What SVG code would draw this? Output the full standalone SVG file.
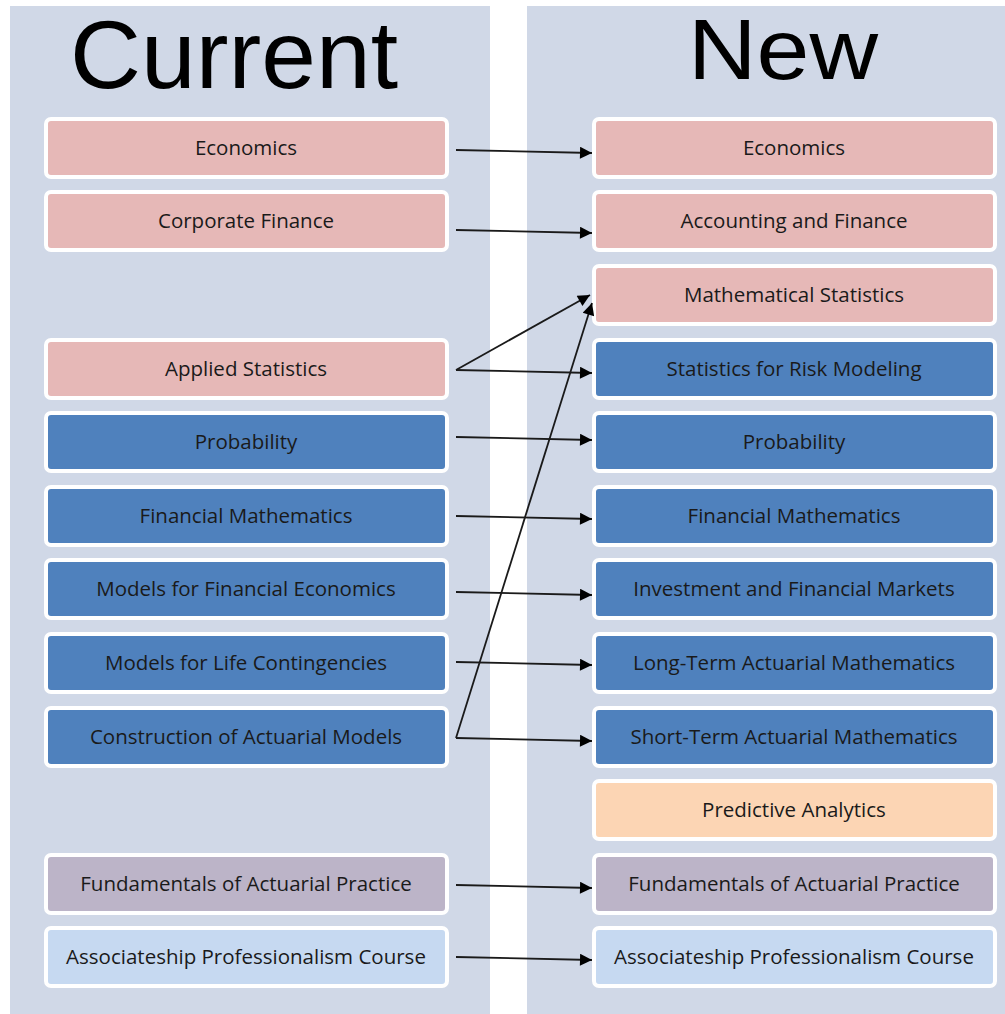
<svg xmlns="http://www.w3.org/2000/svg" width="1005" height="1014" viewBox="0 0 1005 1014">
<style>
.panel{fill:#D0D8E7}
.box{stroke:#FFFFFF;stroke-width:4}
.pink{fill:#E6B8B7}
.blue{fill:#4F81BD}
.peach{fill:#FCD5B4}
.purple{fill:#BCB4C8}
.lblue{fill:#C6D9F1}
.lbl{font-family:"Open Sans","Noto Sans",sans-serif;font-size:20.5px;fill:#1A1A1A;text-anchor:middle;dominant-baseline:central}
.title{font-family:"Liberation Sans","Open Sans",sans-serif;fill:#000000;text-anchor:middle}
.conn{stroke:#1A1A1A;stroke-width:1.8;fill:none;marker-end:url(#arr)}
</style>
<defs>
<marker id="arr" viewBox="0 0 10 10" refX="10" refY="5" markerWidth="15" markerHeight="12" markerUnits="userSpaceOnUse" orient="auto">
<path d="M0,0 L10,5 L0,10 Z" fill="#000000"/>
</marker>
</defs>
<rect fill="#FFFFFF" x="0" y="0" width="1005" height="1014"/>
<rect class="panel" x="10" y="6" width="480" height="1008"/>
<rect class="panel" x="527" y="6" width="478" height="1008"/>
<text class="title" x="234" y="88" font-size="96" textLength="328" lengthAdjust="spacingAndGlyphs">Current</text>
<text class="title" x="783" y="79" font-size="86" textLength="190" lengthAdjust="spacingAndGlyphs">New</text>

<g id="cur-economics"><rect class="box pink" x="46" y="119" width="401" height="58" rx="5"/><text class="lbl" x="246" y="147">Economics</text></g>
<g id="cur-corporate-finance"><rect class="box pink" x="46" y="192" width="401" height="58" rx="5"/><text class="lbl" x="246" y="220">Corporate Finance</text></g>
<g id="cur-applied-statistics"><rect class="box pink" x="46" y="340" width="401" height="58" rx="5"/><text class="lbl" x="246" y="368">Applied Statistics</text></g>
<g id="cur-probability"><rect class="box blue" x="46" y="413" width="401" height="58" rx="5"/><text class="lbl" x="246" y="441">Probability</text></g>
<g id="cur-financial-mathematics"><rect class="box blue" x="46" y="487" width="401" height="58" rx="5"/><text class="lbl" x="246" y="515">Financial Mathematics</text></g>
<g id="cur-models-fe"><rect class="box blue" x="46" y="560" width="401" height="58" rx="5"/><text class="lbl" x="246" y="588">Models for Financial Economics</text></g>
<g id="cur-models-lc"><rect class="box blue" x="46" y="634" width="401" height="58" rx="5"/><text class="lbl" x="246" y="662">Models for Life Contingencies</text></g>
<g id="cur-construction"><rect class="box blue" x="46" y="708" width="401" height="58" rx="5"/><text class="lbl" x="246" y="736">Construction of Actuarial Models</text></g>
<g id="cur-fundamentals"><rect class="box purple" x="46" y="855" width="401" height="58" rx="5"/><text class="lbl" x="246" y="883">Fundamentals of Actuarial Practice</text></g>
<g id="cur-associateship"><rect class="box lblue" x="46" y="928" width="401" height="58" rx="5"/><text class="lbl" x="246" y="956">Associateship Professionalism Course</text></g>

<g id="new-economics"><rect class="box pink" x="594" y="119" width="401" height="58" rx="5"/><text class="lbl" x="794" y="147">Economics</text></g>
<g id="new-accounting-finance"><rect class="box pink" x="594" y="192" width="401" height="58" rx="5"/><text class="lbl" x="794" y="220">Accounting and Finance</text></g>
<g id="new-mathematical-statistics"><rect class="box pink" x="594" y="266" width="401" height="58" rx="5"/><text class="lbl" x="794" y="294">Mathematical Statistics</text></g>
<g id="new-srm"><rect class="box blue" x="594" y="340" width="401" height="58" rx="5"/><text class="lbl" x="794" y="368">Statistics for Risk Modeling</text></g>
<g id="new-probability"><rect class="box blue" x="594" y="413" width="401" height="58" rx="5"/><text class="lbl" x="794" y="441">Probability</text></g>
<g id="new-financial-mathematics"><rect class="box blue" x="594" y="487" width="401" height="58" rx="5"/><text class="lbl" x="794" y="515">Financial Mathematics</text></g>
<g id="new-ifm"><rect class="box blue" x="594" y="560" width="401" height="58" rx="5"/><text class="lbl" x="794" y="588">Investment and Financial Markets</text></g>
<g id="new-ltam"><rect class="box blue" x="594" y="634" width="401" height="58" rx="5"/><text class="lbl" x="794" y="662">Long-Term Actuarial Mathematics</text></g>
<g id="new-stam"><rect class="box blue" x="594" y="708" width="401" height="58" rx="5"/><text class="lbl" x="794" y="736">Short-Term Actuarial Mathematics</text></g>
<g id="new-predictive"><rect class="box peach" x="594" y="781" width="401" height="58" rx="5"/><text class="lbl" x="794" y="809">Predictive Analytics</text></g>
<g id="new-fundamentals"><rect class="box purple" x="594" y="855" width="401" height="58" rx="5"/><text class="lbl" x="794" y="883">Fundamentals of Actuarial Practice</text></g>
<g id="new-associateship"><rect class="box lblue" x="594" y="928" width="401" height="58" rx="5"/><text class="lbl" x="794" y="956">Associateship Professionalism Course</text></g>

<g id="connectors">
<line class="conn" x1="456" y1="150" x2="592" y2="153"/>
<line class="conn" x1="456" y1="230" x2="592" y2="233"/>
<line class="conn" x1="456" y1="370" x2="590" y2="295"/>
<line class="conn" x1="456" y1="370" x2="592" y2="373"/>
<line class="conn" x1="456" y1="437" x2="592" y2="440"/>
<line class="conn" x1="456" y1="516" x2="592" y2="519"/>
<line class="conn" x1="456" y1="592" x2="592" y2="595"/>
<line class="conn" x1="456" y1="662" x2="592" y2="665"/>
<line class="conn" x1="456" y1="738" x2="592" y2="741"/>
<line class="conn" x1="456" y1="738" x2="592" y2="303"/>
<line class="conn" x1="456" y1="885" x2="592" y2="888"/>
<line class="conn" x1="456" y1="957" x2="592" y2="960"/>
</g>
</svg>
